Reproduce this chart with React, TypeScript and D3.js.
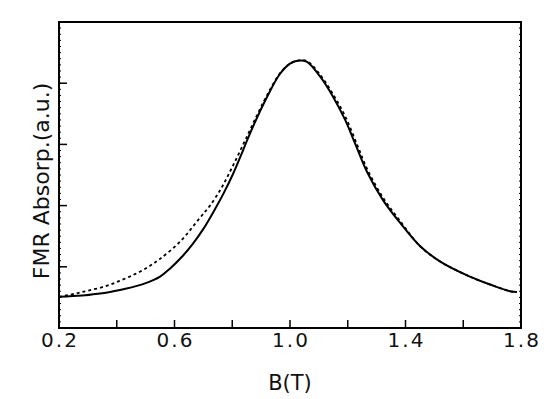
import * as d3 from "d3";
import React, { useEffect, useRef } from "react";

// measured curve (solid)
const solidB = [0.2, 0.28, 0.335, 0.377, 0.43, 0.498, 0.55, 0.584, 0.625, 0.664, 0.7, 0.74, 0.77, 0.803, 0.837, 0.868, 0.92, 0.965, 1.0, 1.03, 1.059, 1.104, 1.149, 1.191, 1.218, 1.232, 1.267, 1.322, 1.381, 1.45, 1.519, 1.623, 1.693, 1.762, 1.786];
const solidAbs = [0.51, 0.53, 0.56, 0.59, 0.64, 0.73, 0.84, 0.97, 1.16, 1.38, 1.62, 1.94, 2.2, 2.52, 2.9, 3.25, 3.77, 4.15, 4.32, 4.37, 4.35, 4.11, 3.78, 3.4, 3.1, 2.94, 2.55, 2.09, 1.72, 1.34, 1.09, 0.84, 0.71, 0.6, 0.59];

// fitted curve (dashed)
const dashB = [0.2, 0.255, 0.3, 0.359, 0.41, 0.463, 0.51, 0.55, 0.619, 0.688, 0.723, 0.764, 0.8, 0.84, 0.88, 0.92, 0.965, 1.0, 1.03, 1.059, 1.104, 1.149, 1.191, 1.232, 1.267, 1.322, 1.381, 1.45, 1.519, 1.623, 1.693, 1.762, 1.78];
const dashAbs = [0.51, 0.56, 0.61, 0.68, 0.77, 0.88, 1.0, 1.13, 1.41, 1.8, 2.0, 2.3, 2.63, 3.02, 3.42, 3.8, 4.16, 4.32, 4.37, 4.36, 4.14, 3.82, 3.46, 3.0, 2.6, 2.13, 1.75, 1.34, 1.09, 0.84, 0.71, 0.6, 0.59];

const xTickLabels = ["0.2", "0.6", "1.0", "1.4", "1.8"];
const xMajorTicks = [0.4, 0.6, 0.8, 1.0, 1.2, 1.4, 1.6];
const yMajorTicks = [1, 2, 3, 4];

const FmrChart = () => {
  const ref = useRef<SVGSVGElement | null>(null);

  useEffect(() => {
    drawChart();
  }, []);

  const drawChart = () => {
    const svg = d3.select(ref.current);
    svg.selectAll("*").remove();

    const x = d3.scaleLinear().domain([0.2, 1.8]).range([59, 521]);
    const y = d3.scaleLinear().domain([0, 5]).range([328, 22]);
    const font = "'DejaVu Sans', sans-serif";

    // frame
    svg
      .append("rect")
      .attr("x", x(0.2))
      .attr("y", y(5))
      .attr("width", x(1.8) - x(0.2))
      .attr("height", y(0) - y(5))
      .attr("fill", "none")
      .attr("stroke", "#000")
      .attr("stroke-width", 2);

    // minor ticks along the left and right edges (dotted look)
    const minor = d3.range(0.1, 5, 0.1);
    svg
      .selectAll("minorL")
      .data(minor)
      .enter()
      .append("line")
      .attr("x1", x(0.2))
      .attr("x2", x(0.2) + 2)
      .attr("y1", (d) => y(d))
      .attr("y2", (d) => y(d))
      .attr("stroke", "#000")
      .attr("stroke-width", 1);
    svg
      .selectAll("minorR")
      .data(minor)
      .enter()
      .append("line")
      .attr("x1", x(1.8))
      .attr("x2", x(1.8) - 2)
      .attr("y1", (d) => y(d))
      .attr("y2", (d) => y(d))
      .attr("stroke", "#000")
      .attr("stroke-width", 1);

    // major ticks
    svg
      .selectAll("xTicks")
      .data(xMajorTicks)
      .enter()
      .append("line")
      .attr("x1", (d) => x(d))
      .attr("x2", (d) => x(d))
      .attr("y1", y(0))
      .attr("y2", y(0) - 8)
      .attr("stroke", "#000")
      .attr("stroke-width", 1.5);
    svg
      .selectAll("yTicks")
      .data(yMajorTicks)
      .enter()
      .append("line")
      .attr("x1", x(0.2))
      .attr("x2", x(0.2) + 8)
      .attr("y1", (d) => y(d))
      .attr("y2", (d) => y(d))
      .attr("stroke", "#000")
      .attr("stroke-width", 1.5);

    // tick labels
    svg
      .selectAll("xLabels")
      .data(xTickLabels)
      .enter()
      .append("text")
      .text((d) => d)
      .attr("x", (d) => x(+d) + 1)
      .attr("y", 347)
      .attr("text-anchor", "middle")
      .attr("font-family", font)
      .attr("font-size", 20)
      .attr("letter-spacing", 2)
      .attr("fill", "#111");

    // axis titles
    svg
      .append("text")
      .text("B(T)")
      .attr("x", x(1.0))
      .attr("y", 390)
      .attr("text-anchor", "middle")
      .attr("font-family", font)
      .attr("font-size", 21)
      .attr("fill", "#111");
    svg
      .append("text")
      .text("FMR Absorp.(a.u.)")
      .attr("transform", "translate(49," + 181 + ") rotate(-90)")
      .attr("text-anchor", "middle")
      .attr("font-family", font)
      .attr("font-size", 22)
      .attr("fill", "#111");

    const line = d3
      .line<[number, number]>()
      .x((d) => x(d[0]))
      .y((d) => y(d[1]))
      .curve(d3.curveCatmullRom);

    const dashData = dashB.map((b, i) => [b, dashAbs[i]] as [number, number]);
    const solidData = solidB.map((b, i) => [b, solidAbs[i]] as [number, number]);

    svg
      .append("path")
      .attr("d", line(dashData))
      .attr("fill", "none")
      .attr("stroke", "#000")
      .attr("stroke-width", 1.8)
      .attr("stroke-dasharray", "3,3");

    svg
      .append("path")
      .attr("d", line(solidData))
      .attr("fill", "none")
      .attr("stroke", "#000")
      .attr("stroke-width", 2);
  };

  return (
    <svg
      ref={ref}
      width={555}
      height={399}
      style={{ position: "absolute", left: 0, top: 0, background: "#fff" }}
    />
  );
};

export default function App() {
  return <FmrChart />;
}
